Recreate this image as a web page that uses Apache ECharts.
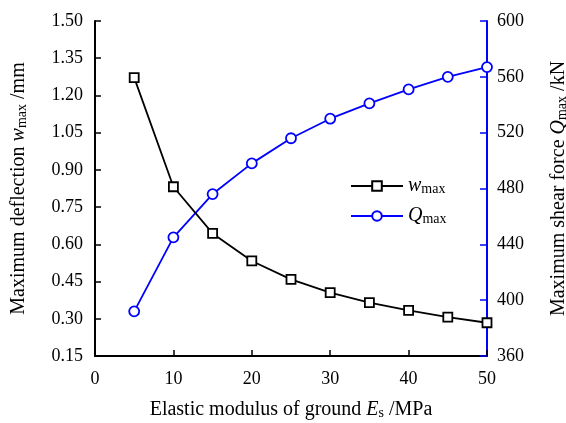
<!DOCTYPE html>
<html><head><meta charset="utf-8">
<script src="https://cdn.jsdelivr.net/npm/echarts@6/dist/echarts.min.js"></script>
<style>html,body{margin:0;padding:0;background:#fff}#c{width:566px;height:423px}</style>
</head><body><div id="c"></div>
<script>
const modulus = [5, 10, 15, 20, 25, 30, 35, 40, 45, 50];
const wmax = [1.272, 0.832, 0.644, 0.533, 0.459, 0.405, 0.365, 0.334, 0.307, 0.284];
const qmax = [392, 445, 476, 498, 516, 530, 541, 551, 560, 567];
const FONT = 'Liberation Serif';
const chart = echarts.init(document.getElementById('c'));
const rich = {
  n: {fontFamily: FONT, fontSize: 20, color: '#000'},
  i: {fontFamily: FONT, fontSize: 20, fontStyle: 'italic', color: '#000'},
  s: {fontFamily: FONT, fontSize: 14, color: '#000', verticalAlign: 'bottom', lineHeight: 14}
};
chart.setOption({
  animation: false,
  backgroundColor: '#fff',
  grid: {left: 95, right: 79, top: 21, bottom: 67, containLabel: false, outerBoundsMode: 'none'},
  legend: {
    orient: 'vertical', left: 350, top: 176, padding: 0, itemWidth: 52, itemHeight: 12, itemGap: 10,
    data: ['wmax', 'Qmax'],
    formatter: n => n === 'wmax' ? '{i|w}{s|max}' : '{i|Q}{s|max}',
    textStyle: {fontFamily: FONT, fontSize: 19, rich: {
      i: {fontFamily: FONT, fontSize: 20, fontStyle: 'italic', color: '#000'},
      s: {fontFamily: FONT, fontSize: 14, color: '#000', verticalAlign: 'bottom', lineHeight: 14}
    }}
  },
  xAxis: {
    type: 'value', min: 0, max: 50, interval: 10,
    name: '{n|Elastic modulus of ground }{i|E}{s|s}{n| /MPa}',
    nameLocation: 'middle', nameGap: 44, nameTextStyle: {rich},
    axisLine: {lineStyle: {color: '#000', width: 2}},
    axisTick: {inside: true, length: 6, lineStyle: {color: '#000', width: 1.5}},
    axisLabel: {fontFamily: FONT, fontSize: 18, color: '#000', margin: 14},
    splitLine: {show: false}
  },
  yAxis: [{
    type: 'value', min: 0.15, max: 1.5, interval: 0.15, position: 'left',
    name: '{n|Maximum deflection }{i|w}{s|max}{n| /mm}',
    nameLocation: 'middle', nameGap: 66, nameRotate: 90, nameTextStyle: {rich},
    axisLine: {show: true, lineStyle: {color: '#000', width: 2}},
    axisTick: {show: true, inside: true, length: 6, lineStyle: {color: '#000', width: 1.5}},
    axisLabel: {fontFamily: FONT, fontSize: 18, color: '#000', margin: 12, formatter: v => v.toFixed(2)},
    splitLine: {show: false}
  }, {
    type: 'value', min: 360, max: 600, interval: 40, position: 'right',
    name: '{n|Maximum shear force }{i|Q}{s|max}{n| /kN}',
    nameLocation: 'middle', nameGap: 62, nameRotate: 90, nameTextStyle: {rich},
    axisLine: {show: true, lineStyle: {color: '#0000ff', width: 2}},
    axisTick: {show: true, inside: true, length: 7, lineStyle: {color: '#0000ff', width: 1.5}},
    axisLabel: {fontFamily: FONT, fontSize: 18, color: '#000', margin: 10},
    splitLine: {show: false}
  }],
  series: [{
    name: 'wmax', type: 'line', yAxisIndex: 0,
    data: modulus.map((x, k) => [x, wmax[k]]),
    symbol: 'rect', symbolSize: 9,
    lineStyle: {color: '#000', width: 1.8},
    itemStyle: {color: '#fff', borderColor: '#000', borderWidth: 1.8},
    z: 3
  }, {
    name: 'Qmax', type: 'line', yAxisIndex: 1,
    data: modulus.map((x, k) => [x, qmax[k]]),
    symbol: 'circle', symbolSize: 10,
    lineStyle: {color: '#0000ff', width: 1.8},
    itemStyle: {color: '#fff', borderColor: '#0000ff', borderWidth: 1.8},
    z: 2
  }]
});
</script></body></html>
